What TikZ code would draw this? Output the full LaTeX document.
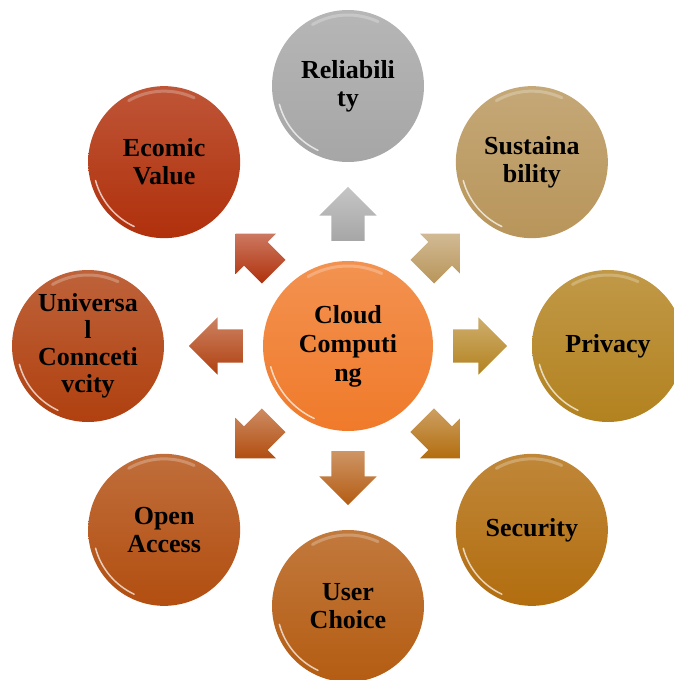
\documentclass[tikz,border=0pt]{standalone}
\usepackage{fontspec}
\setmainfont{Liberation Serif}
\usetikzlibrary{shapes.arrows,calc}

\definecolor{cloudC}{HTML}{F07A2A}
\definecolor{relC}{HTML}{A6A6A6}
\definecolor{susC}{HTML}{B8955A}
\definecolor{priC}{HTML}{B3821F}
\definecolor{secC}{HTML}{B26D0E}
\definecolor{usrC}{HTML}{B45C12}
\definecolor{opnC}{HTML}{B24E10}
\definecolor{uniC}{HTML}{B0400F}
\definecolor{ecoC}{HTML}{B0300B}

\begin{document}
\begin{tikzpicture}[x=1pt,y=1pt,
		shine/.style={path picture={
				\draw[white,opacity=.7,line width=1.5pt,line cap=round]
				($(path picture bounding box.center)+(195:#1)$) arc[start angle=195,end angle=245,radius=#1];
				\draw[white,opacity=.25,line width=3pt,line cap=round]
				($(path picture bounding box.center)+(65:#1)$) arc[start angle=65,end angle=120,radius=#1];}},
		bubble/.style={circle,draw=none,inner sep=0pt,minimum size=152pt,align=center,
			font=\bfseries\fontsize{26}{28}\selectfont,
			top color=#1!82!white,bottom color=#1,shine=71},
		blockarrow/.style={single arrow,draw=none,inner xsep=0pt,inner ysep=16.5pt,
			minimum height=54pt,single arrow head extend=12pt,pos=.39,
			top color=#1!65!white,bottom color=#1,sloped,allow upside down}]
	
	\useasboundingbox (-348,-334) rectangle (325,346);
	
	% hub
	\node[bubble=cloudC,minimum size=170pt,shine=80,
	font=\bfseries\fontsize{26}{29}\selectfont] (cc) at (0,0) {Cloud\\Computi\\ng};
	
	% ring of topics
	\node[bubble=relC] (rel) at (90:260)   {Reliabili\\ty};
	\node[bubble=susC] (sus) at (45:260)   {Sustaina\\bility};
	\node[bubble=priC] (pri) at (0:260)    {Privacy};
	\node[bubble=secC] (sec) at (-45:260)  {Security};
	\node[bubble=usrC] (usr) at (-90:260)  {User\\Choice};
	\node[bubble=opnC] (opn) at (-135:260) {Open\\Access};
	\node[bubble=uniC,font=\bfseries\fontsize{26}{27}\selectfont] (uni) at (180:260) {Universa\\l\\Connceti\\vcity};
	\node[bubble=ecoC] (eco) at (135:260)  {Ecomic\\Value};
	
	% block arrows
	\path (cc) -- node[blockarrow=relC] {} (rel)
	(cc) -- node[blockarrow=susC] {} (sus)
	(cc) -- node[blockarrow=priC] {} (pri)
	(cc) -- node[blockarrow=secC] {} (sec)
	(cc) -- node[blockarrow=usrC] {} (usr)
	(cc) -- node[blockarrow=opnC] {} (opn)
	(cc) -- node[blockarrow=uniC] {} (uni)
	(cc) -- node[blockarrow=ecoC] {} (eco);
\end{tikzpicture}
\end{document}
